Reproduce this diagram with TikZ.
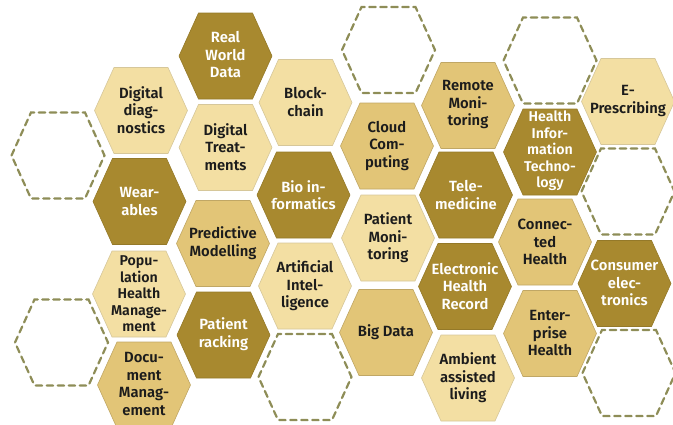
\documentclass[tikz,border=0pt]{standalone}
\usepackage{fontspec}
\setmainfont{Fira Sans}[BoldFont={Fira Sans SemiBold}]
\definecolor{hexdark}{HTML}{A8892F}
\definecolor{hexmid}{HTML}{E2C577}
\definecolor{hexlight}{HTML}{F3DFA3}
\definecolor{dashc}{HTML}{8E8D57}
\definecolor{txt}{HTML}{1C1C1C}
\begin{document}
\begin{tikzpicture}[x=1pt,y=-1pt,
  pics/hex/.style={code={\path[pic actions] (-46.5,0) -- (-27,-43) -- (27,-43) -- (46.5,0) -- (27,43) -- (-27,43) -- cycle;}},
  hexd/.style={fill=hexdark,draw=hexdark!88!black,line width=0.6pt},
  hexm/.style={fill=hexmid,draw=hexmid!85!black,line width=0.6pt},
  hexl/.style={fill=hexlight,draw=hexlight!75!gray,line width=0.6pt},
  hexe/.style={draw=dashc,line width=2.2pt,dash pattern=on 6.5pt off 4.5pt,line cap=round},
  lbl/.style={align=center,font=\bfseries\fontsize{14.8}{17.5}\selectfont,text=txt,inner sep=0pt},
  lblw/.style={lbl,text=white},
  lblf/.style={align=center,font=\bfseries\fontsize{14.2}{16.5}\selectfont,text=txt,inner sep=0pt},
  lblfw/.style={lblf,text=white}
]
\useasboundingbox (0,0) rectangle (673,424);
\clip (0,0) rectangle (673,424);
% empty dashed cells
\pic[hexe] (e1) at (58,155.5) {hex};
\pic[hexe] (e2) at (61.5,342.5) {hex};
\pic[hexe] (e3) at (305,377) {hex};
\pic[hexe] (e4) at (388.5,50) {hex};
\pic[hexe] (e5) at (550,60.5) {hex};
\pic[hexe] (e6) at (628,191.5) {hex};
\pic[hexe] (e7) at (629,373) {hex};
% dark cells
\pic[hexd] at (225.5,56) {hex};
\pic[hexd] at (139.5,201.5) {hex};
\pic[hexd] at (303.5,195) {hex};
\pic[hexd] at (223.5,335) {hex};
\pic[hexd] at (466,195) {hex};
\pic[hexd] at (465,286.5) {hex};
\pic[hexd] at (550,152) {hex};
\pic[hexd] at (624.5,283.5) {hex};
% medium cells
\pic[hexm] at (223,243.5) {hex};
\pic[hexm] at (144,385) {hex};
\pic[hexm] at (387,146) {hex};
\pic[hexm] at (386,332.5) {hex};
\pic[hexm] at (468,105.5) {hex};
\pic[hexm] at (545,242) {hex};
\pic[hexm] at (550,333.5) {hex};
% light cells
\pic[hexl] at (141,110.5) {hex};
\pic[hexl] at (225.5,147.5) {hex};
\pic[hexl] at (305.5,102.5) {hex};
\pic[hexl] at (139,294) {hex};
\pic[hexl] at (305,286) {hex};
\pic[hexl] at (388,238) {hex};
\pic[hexl] at (468,378) {hex};
\pic[hexl] at (628,101.5) {hex};
% labels
\node[lblw] (rwd) at (225.5,55) {Real\\World\\Data};
\node[lblw] (wear) at (139.5,201.5) {Wear-\\ables};
\node[lblw] (bio) at (303.5,195) {Bio in-\\formatics};
\node[lblw] (prk) at (223.5,334) {Patient\\racking};
\node[lblw] (tele) at (466,195) {Tele-\\medicine};
\node[lblw] (ehr) at (465,286) {Electronic\\Health\\Record};
\node[lblfw] (hit) at (550,151) {Health\\Infor-\\mation\\Techno-\\logy};
\node[lblw] (cons) at (624.5,283) {Consumer\\elec-\\tronics};
\node[lbl] (pred) at (223,243) {Predictive\\Modelling};
\node[lbl] (doc) at (144,384) {Docu-\\ment\\Manag-\\ement};
\node[lbl] (cloud) at (387,146) {Cloud\\Com-\\puting};
\node[lbl] (big) at (386,332.5) {Big Data};
\node[lbl] (rem) at (468,105) {Remote\\Moni-\\toring};
\node[lbl] (conn) at (545,242) {Connec-\\ted\\Health};
\node[lbl] (ent) at (550,333) {Enter-\\prise\\Health};
\node[lbl] (dd) at (141,110) {Digital\\diag-\\nostics};
\node[lbl] (dt) at (225.5,147) {Digital\\Treat-\\ments};
\node[lbl] (blk) at (305.5,102) {Block-\\chain};
\node[lblf] (pop) at (139,294) {Popu-\\lation\\Health\\Manage-\\ment};
\node[lbl] (ai) at (305,286) {Artificial\\Intel-\\ligence};
\node[lbl] (pm) at (388,238) {Patient\\Moni-\\toring};
\node[lbl] (amb) at (468,378) {Ambient\\assisted\\living};
\node[lbl] (epr) at (628,101) {E-\\Prescribing};
\end{tikzpicture}
\end{document}
